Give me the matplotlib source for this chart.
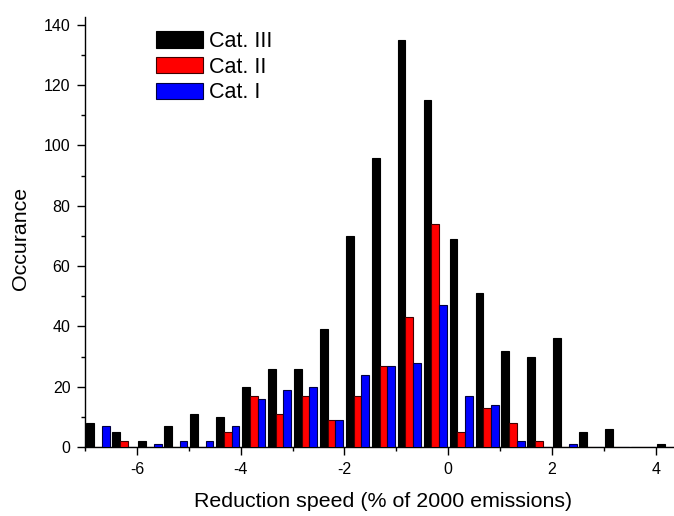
import matplotlib
matplotlib.use("Agg")
import matplotlib.pyplot as plt
import numpy as np
from matplotlib.ticker import MultipleLocator

plt.rcParams['font.family'] = ['Liberation Sans', 'DejaVu Sans']
plt.rcParams['axes.unicode_minus'] = False

bin_centers = [-6.75, -6.25, -5.75, -5.25, -4.75, -4.25, -3.75, -3.25, -2.75, -2.25,
               -1.75, -1.25, -0.75, -0.25, 0.25, 0.75, 1.25, 1.75, 2.25, 2.75,
               3.25, 3.75, 4.25]
cat3 = [8, 5, 2, 7, 11, 10, 20, 26, 26, 39, 70, 96, 135, 115, 69, 51, 32, 30, 36, 5, 6, 0, 1]
cat2 = [0, 2, 0, 0, 0, 5, 17, 11, 17, 9, 17, 27, 43, 74, 5, 13, 8, 2, 0, 0, 0, 0, 0]
cat1 = [7, 0, 1, 2, 2, 7, 16, 19, 20, 9, 24, 27, 28, 47, 17, 14, 2, 0, 1, 0, 0, 0, 0]
series_labels = ["Cat. III", "Cat. II", "Cat. I"]
colors = ["#000000", "#ff0000", "#0000ff"]
edgecolors = ["#000000", "#400000", "#000040"]

fig = plt.figure(figsize=(6.74, 5.16), dpi=100)
ax = fig.add_axes([85/674, 69/516, 1 - 85/674, 430.3/516])

bw = 0.15
x = np.array(bin_centers)
for off, vals, c, ec, lab in zip([-bw, 0, bw], [cat3, cat2, cat1], colors, edgecolors, series_labels):
    ax.bar(x + off, vals, width=bw, color=c, edgecolor=ec,
           linewidth=0.8, label=lab, zorder=3)

ax.set_xlim(-7.0, 4.35)
ax.set_ylim(0, 142.7)
ax.spines['top'].set_visible(False)
ax.spines['right'].set_visible(False)
ax.spines['left'].set_linewidth(1.0)
ax.spines['bottom'].set_linewidth(1.0)
ax.xaxis.set_major_locator(MultipleLocator(2))
ax.xaxis.set_minor_locator(MultipleLocator(1))
ax.yaxis.set_major_locator(MultipleLocator(20))
ax.yaxis.set_minor_locator(MultipleLocator(10))
ax.tick_params(which='major', direction='out', length=6, width=1.0, labelsize=11.5, pad=4.5)
ax.tick_params(which='minor', direction='out', length=3, width=1.0)
ax.set_xlabel("Reduction speed (% of 2000 emissions)", fontsize=15.4, labelpad=11)
ax.xaxis.label.set_x(0.506)
ax.set_ylabel("Occurance", fontsize=15.4)
ax.yaxis.set_label_coords(-0.094, 0.485)

leg = ax.legend(loc='upper left', bbox_to_anchor=(0.120, 0.967), frameon=False,
                fontsize=15.5, handlelength=2.2, handleheight=0.8, handletextpad=0.28,
                labelspacing=0.22, borderpad=0, borderaxespad=0)

fig.savefig("out.png", dpi=100)
